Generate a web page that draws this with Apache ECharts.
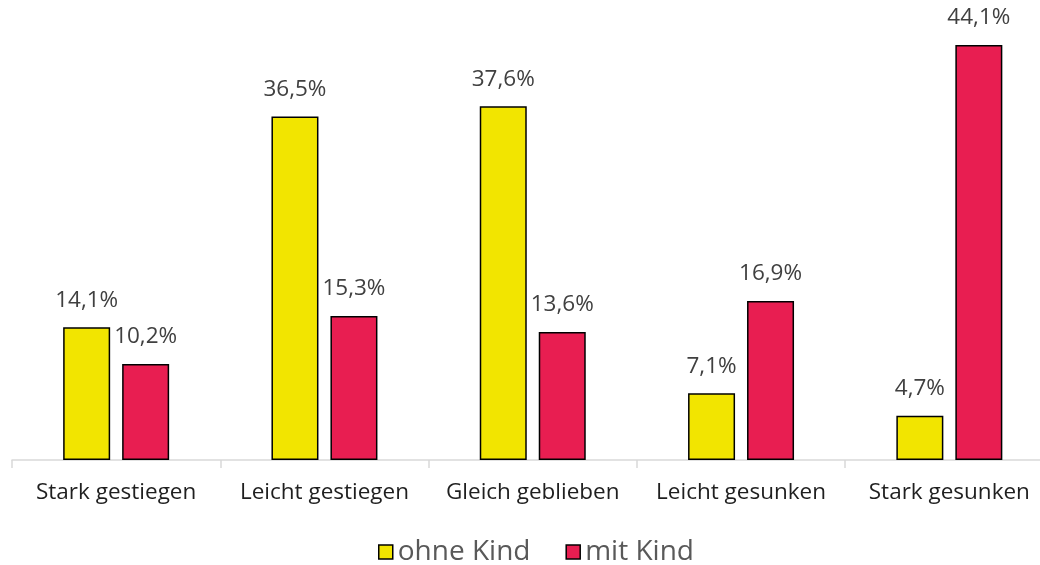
<!DOCTYPE html>
<html><head><meta charset="utf-8">
<script src="https://cdn.jsdelivr.net/npm/echarts@6/dist/echarts.min.js"></script>
<style>html,body{margin:0;padding:0;background:#fff}#c{width:1040px;height:565px}</style>
</head><body><div id="c"></div>
<script>
const categories = ['Stark gestiegen', 'Leicht gestiegen', 'Gleich geblieben', 'Leicht gesunken', 'Stark gesunken'];
const ohneKind = [14.1, 36.5, 37.6, 7.1, 4.7];
const mitKind = [10.2, 15.3, 13.6, 16.9, 44.1];
const seriesNames = ['ohne Kind', 'mit Kind'];

const FONT = 'Open Sans';
const fmt = p => p.value.toFixed(1).replace('.', ',') + '%';
const chart = echarts.init(document.getElementById('c'));
const labelCfg = {show: true, position: 'top', distance: 15, formatter: fmt,
  fontFamily: FONT, fontSize: 22.5, color: '#404040', lineHeight: 24};
chart.setOption({
  animation: false,
  grid: {left: 12, right: -13.5, top: 8.3, bottom: 105, containLabel: false, outerBoundsMode: 'none'},
  legend: {top: 537, left: 378, padding: 0, itemWidth: 14, itemHeight: 14, itemGap: 35, itemStyle: {borderColor: '#000', borderWidth: 1.5},
    icon: 'rect', textStyle: {fontFamily: FONT, fontSize: 28, color: '#595959', lineHeight: 30},
    data: seriesNames},
  xAxis: {type: 'category', data: categories,
    axisLine: {lineStyle: {color: '#d9d9d9', width: 1.5}},
    axisTick: {show: true, length: 8, lineStyle: {color: '#d9d9d9', width: 1.5}},
    axisLabel: {fontFamily: FONT, fontSize: 22.5, color: '#1f1f1f', margin: 20, lineHeight: 26, interval: 0}},
  yAxis: {type: 'value', min: 0, max: 48, show: false, splitLine: {show: false}},
  series: [
    {name: seriesNames[0], type: 'bar', data: ohneKind, barWidth: 47, barGap: '25.5%',
     itemStyle: {color: '#f2e500', borderColor: '#000', borderWidth: 1.5}, label: labelCfg},
    {name: seriesNames[1], type: 'bar', data: mitKind, barWidth: 47,
     itemStyle: {color: '#e81e51', borderColor: '#000', borderWidth: 1.5}, label: labelCfg}
  ]
});
</script></body></html>
